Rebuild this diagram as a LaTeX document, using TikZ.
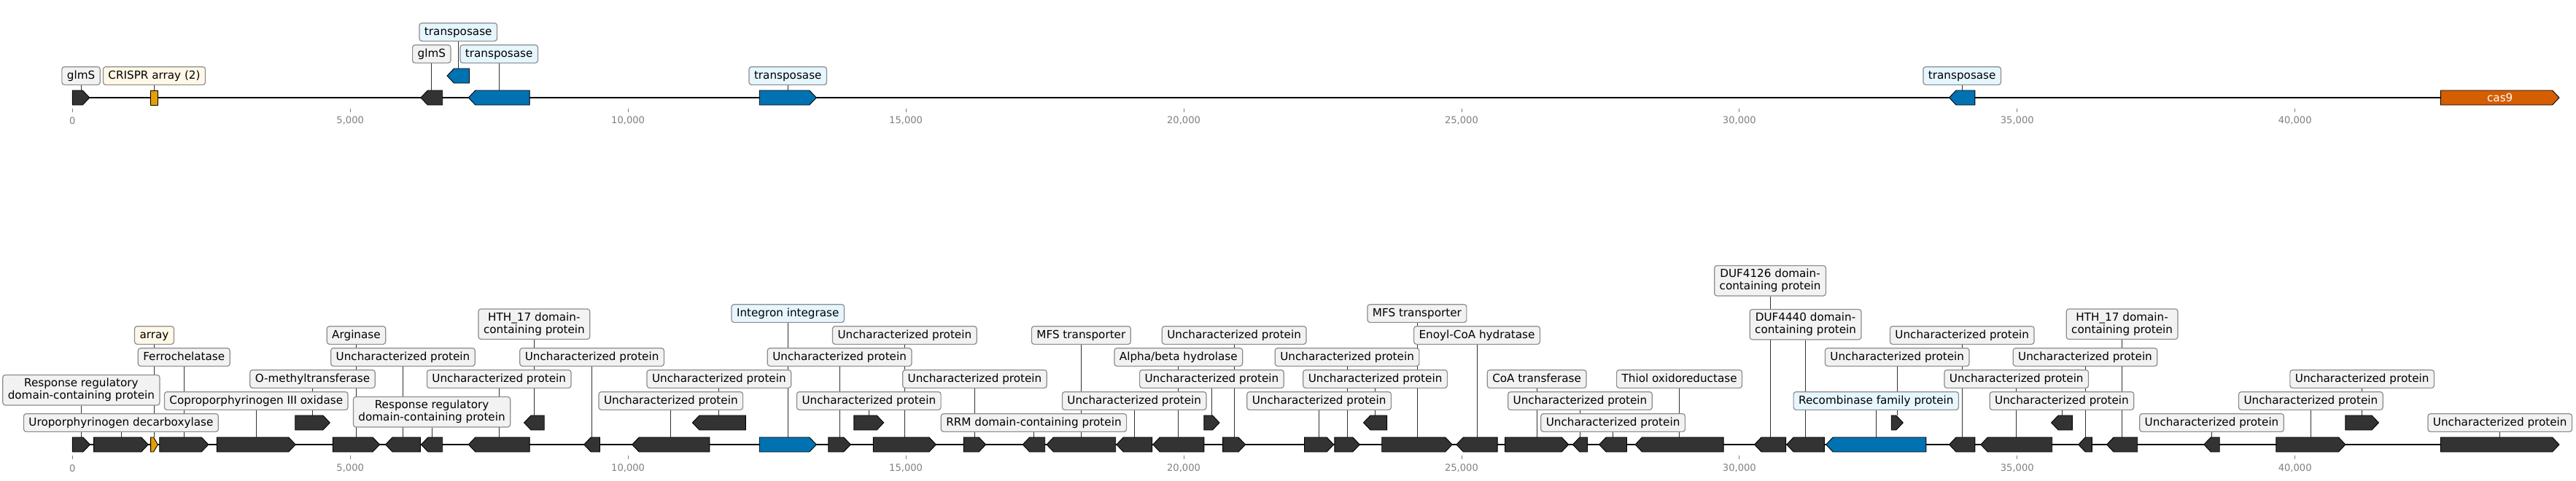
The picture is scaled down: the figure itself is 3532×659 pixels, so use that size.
\documentclass[tikz,border=0pt]{standalone}
\usepackage{fontspec}
\setmainfont{DejaVu Sans}
\definecolor{gdark}{RGB}{51,51,51}
\definecolor{gblue}{RGB}{0,114,178}
\definecolor{gorange}{RGB}{230,159,0}
\definecolor{gverm}{RGB}{213,94,0}
\definecolor{lfill}{RGB}{242,242,242}
\definecolor{lblue}{RGB}{230,246,255}
\definecolor{lcream}{RGB}{255,248,231}
\definecolor{lborder}{RGB}{140,140,140}
\definecolor{tickgray}{RGB}{128,128,128}
\pgfdeclarelayer{bg}
\pgfsetlayers{bg,main}
% gene: id, x1, x2, yc, dir (1/-1/0), fill
\newcommand\gn[6]{%
  \pgfmathsetmacro\gh{min(9.5,0.6*(#3-#2))}%
  \ifnum#5=1
    \draw[genestyle,fill=#6] (#2,#4-10) -- ({#3-\gh},#4-10) -- (#3,#4) -- ({#3-\gh},#4+10) -- (#2,#4+10) -- cycle;
  \else\ifnum#5=-1
    \draw[genestyle,fill=#6] (#3,#4-10) -- ({#2+\gh},#4-10) -- (#2,#4) -- ({#2+\gh},#4+10) -- (#3,#4+10) -- cycle;
  \else
    \draw[genestyle,fill=#6] (#2,#4-10) rectangle (#3,#4+10);
  \fi\fi
  \coordinate (#1) at ({(#2+#3)/2},#4-10);
}
% label: id, y centre, style, text
\newcommand\lb[4]{%
  \node[#3] (#1l) at (#1 |- 0,#2) {#4};
  \begin{pgfonlayer}{bg}\draw[conn] (#1l.south) -- (#1);\end{pgfonlayer}
}
\newcommand\G[9]{\gn{#1}{#2}{#3}{#4}{#5}{#6}\lb{#1}{#7}{#8}{#9}}
\begin{document}
\begin{tikzpicture}[x=1pt,y=-1pt,
  genestyle/.style={draw=black,line width=0.9pt,line join=miter},
  conn/.style={draw=black!80,line width=0.8pt},
  track/.style={draw=black,line width=1.7pt},
  lblbase/.style={draw=lborder,line width=1.2pt,fill=lfill,rounded corners=3.5pt,
    font=\fontsize{15.2}{17}\selectfont,inner xsep=7pt,inner ysep=4.9pt},
  lbl/.style={lblbase,text height=11.6pt,text depth=3.3pt},
  lblb/.style={lbl,fill=lblue},
  lblc/.style={lbl,fill=lcream},
  lbltwo/.style={lblbase,align=center},
  tickline/.style={draw=tickgray,line width=0.8pt},
  ticktext/.style={text=tickgray,font=\fontsize{13.1}{15}\selectfont,inner sep=0pt},
]
\useasboundingbox (0,0) rectangle (3532,659);
\begin{pgfonlayer}{bg}
  \coordinate (ta) at (99.3,134);
  \coordinate (tb) at (3509,134);
  \coordinate (ba) at (99.3,610);
  \coordinate (bb) at (3509,610);
  \draw[track] (ta) -- (tb);
  \draw[track] (ba) -- (bb);
\end{pgfonlayer}
\foreach \v/\t [count=\i] in {0/0,5/{5,000},10/{10,000},15/{15,000},20/{20,000},25/{25,000},30/{30,000},35/{35,000},40/{40,000}}{
  \pgfmathsetmacro\xx{99.3+76.185*\v}
  \draw[tickline] (\xx,149.3) -- (\xx,154);
  \node[ticktext] (ttop\i) at (\xx,165.7) {\t};
  \draw[tickline] (\xx,625.3) -- (\xx,630);
  \node[ticktext] (tbot\i) at (\xx,642.3) {\t};
}
% ---------- top track ----------
\G{t1}{99.3}{122.8}{134}{1}{gdark}{104}{lbl}{glmS}
\G{t2}{206.6}{216.4}{134}{0}{gorange}{104}{lblc}{CRISPR array (2)}
\G{t3}{576.9}{606.7}{134}{-1}{gdark}{74}{lbl}{glmS}
\G{t4}{613}{643.5}{104}{-1}{gblue}{44}{lblb}{transposase}
\G{t5}{642.3}{726.1}{134}{-1}{gblue}{74}{lblb}{transposase}
\G{t6}{1041.2}{1119.3}{134}{1}{gblue}{104}{lblb}{transposase}
\G{t7}{2672.5}{2707.9}{134}{-1}{gblue}{104}{lblb}{transposase}
\gn{t8}{3346.4}{3509}{134}{1}{gverm}
\node[text=white,font=\fontsize{15.2}{17}\selectfont,inner sep=0pt] (t8l) at (t8 |- 0,134) {cas9};
% ---------- bottom track ----------
\G{b1}{99.3}{123.4}{610}{1}{gdark}{535.2}{lbltwo}{Response regulatory\\domain-containing protein}
\G{b2}{128.6}{203.2}{610}{1}{gdark}{580}{lbl}{Uroporphyrinogen decarboxylase}
\G{b3}{206.6}{216.4}{610}{1}{gorange}{460}{lblc}{array}
\G{b4}{218.7}{285.8}{610}{1}{gdark}{490}{lbl}{Ferrochelatase}
\G{b5}{297.3}{405.2}{610}{1}{gdark}{550}{lbl}{Coproporphyrinogen III oxidase}
\G{b6}{404.7}{452.3}{580}{1}{gdark}{520}{lbl}{O-methyltransferase}
\G{b7}{456.3}{520.6}{610}{1}{gdark}{460}{lbl}{Arginase}
\G{b8}{528.6}{576.3}{610}{-1}{gdark}{490}{lbl}{Uncharacterized protein}
\G{b9}{577.4}{606.7}{610}{-1}{gdark}{565.2}{lbltwo}{Response regulatory\\domain-containing protein}
\G{b10}{642.3}{726.1}{610}{-1}{gdark}{520}{lbl}{Uncharacterized protein}
\G{b11}{718.6}{746.2}{580}{-1}{gdark}{444.7}{lbltwo}{HTH\_17 domain-\\containing protein}
\G{b12}{800.7}{822.5}{610}{-1}{gdark}{490}{lbl}{Uncharacterized protein}
\G{b13}{866.7}{972.9}{610}{-1}{gdark}{550}{lbl}{Uncharacterized protein}
\G{b14}{949.4}{1022.3}{580}{-1}{gdark}{520}{lbl}{Uncharacterized protein}
\G{b15}{1041.2}{1119.3}{610}{1}{gblue}{430}{lblb}{Integron integrase}
\G{b16}{1135.9}{1166.3}{610}{1}{gdark}{490}{lbl}{Uncharacterized protein}
\G{b17}{1170.9}{1211.7}{580}{1}{gdark}{550}{lbl}{Uncharacterized protein}
\G{b18}{1197.3}{1283.4}{610}{1}{gdark}{460}{lbl}{Uncharacterized protein}
\G{b19}{1321.3}{1351.7}{610}{1}{gdark}{520}{lbl}{Uncharacterized protein}
\G{b20}{1402.2}{1432.7}{610}{-1}{gdark}{580}{lbl}{RRM domain-containing protein}
\G{b21}{1435}{1529.7}{610}{-1}{gdark}{460}{lbl}{MFS transporter}
\G{b22}{1530.8}{1579.6}{610}{-1}{gdark}{550}{lbl}{Uncharacterized protein}
\G{b23}{1580.8}{1650.8}{610}{-1}{gdark}{490}{lbl}{Alpha/beta hydrolase}
\G{b24}{1650.8}{1672}{580}{1}{gdark}{520}{lbl}{Uncharacterized protein}
\G{b25}{1676.6}{1707.6}{610}{1}{gdark}{460}{lbl}{Uncharacterized protein}
\G{b26}{1788.5}{1828.7}{610}{1}{gdark}{550}{lbl}{Uncharacterized protein}
\G{b27}{1829.8}{1864.3}{610}{1}{gdark}{490}{lbl}{Uncharacterized protein}
\G{b28}{1869.5}{1901.6}{580}{-1}{gdark}{520}{lbl}{Uncharacterized protein}
\G{b29}{1894.7}{1991.1}{610}{1}{gdark}{430}{lbl}{MFS transporter}
\G{b30}{1996.9}{2053.1}{610}{-1}{gdark}{460}{lbl}{Enoyl-CoA hydratase}
\G{b31}{2063.5}{2150.7}{610}{1}{gdark}{520}{lbl}{CoA transferase}
\G{b32}{2156.4}{2176.5}{610}{-1}{gdark}{550}{lbl}{Uncharacterized protein}
\G{b33}{2192.6}{2230.5}{610}{-1}{gdark}{580}{lbl}{Uncharacterized protein}
\G{b34}{2242}{2363.1}{610}{-1}{gdark}{520}{lbl}{Thiol oxidoreductase}
\G{b35}{2405.5}{2448.6}{610}{-1}{gdark}{385.2}{lbltwo}{DUF4126 domain-\\containing protein}
\G{b36}{2449.7}{2501.4}{610}{-1}{gdark}{445.2}{lbltwo}{DUF4440 domain-\\containing protein}
\G{b37}{2503.7}{2640.9}{610}{-1}{gblue}{550}{lblb}{Recombinase family protein}
\G{b38}{2593.2}{2609.3}{580}{1}{gdark}{490}{lbl}{Uncharacterized protein}
\G{b39}{2672.5}{2707.9}{610}{-1}{gdark}{460}{lbl}{Uncharacterized protein}
\G{b40}{2715.8}{2813.7}{610}{-1}{gdark}{520}{lbl}{Uncharacterized protein}
\G{b41}{2812.6}{2841.3}{580}{-1}{gdark}{550}{lbl}{Uncharacterized protein}
\G{b42}{2849.7}{2868.3}{610}{-1}{gdark}{490}{lbl}{Uncharacterized protein}
\G{b43}{2888.5}{2930.7}{610}{-1}{gdark}{444.7}{lbltwo}{HTH\_17 domain-\\containing protein}
\G{b44}{3021.8}{3043.2}{610}{-1}{gdark}{580}{lbl}{Uncharacterized protein}
\G{b45}{3120.8}{3215.9}{610}{1}{gdark}{550}{lbl}{Uncharacterized protein}
\G{b46}{3215.9}{3261.4}{580}{1}{gdark}{520}{lbl}{Uncharacterized protein}
\G{b47}{3346.4}{3509}{610}{1}{gdark}{580}{lbl}{Uncharacterized protein}
\end{tikzpicture}
\end{document}
